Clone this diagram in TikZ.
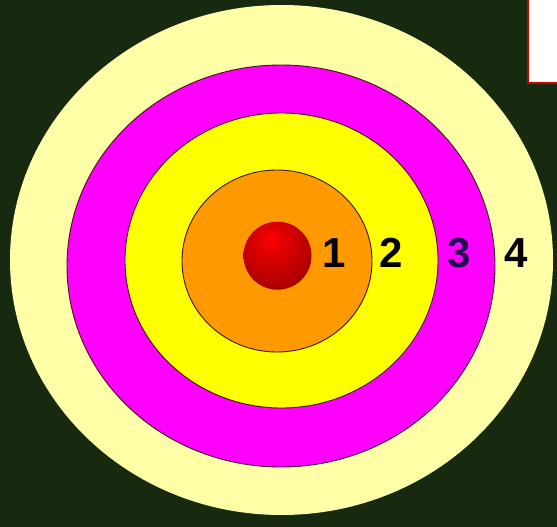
\documentclass[tikz,border=0pt]{standalone}
\usepackage{fontspec}
\setmainfont{Liberation Sans}
\definecolor{bgcol}{RGB}{23,41,14}
\definecolor{palecol}{RGB}{255,255,168}
\definecolor{magcol}{RGB}{255,0,255}
\definecolor{yelcol}{RGB}{255,255,0}
\definecolor{orcol}{RGB}{255,153,0}
\definecolor{ringline}{RGB}{60,20,20}
\definecolor{navycol}{RGB}{32,12,80}
\definecolor{boxred}{RGB}{200,0,0}
\pgfdeclareradialshading{redball}{\pgfpoint{-5bp}{13bp}}{%
  color(0bp)=(red!100!white);
  color(8bp)=(red!90!black);
  color(30bp)=(red!68!black);
  color(50bp)=(red!50!black);
  color(70bp)=(red!45!black)}
\begin{document}
\begin{tikzpicture}[x=1pt,y=-1pt,
  ring/.style={draw=ringline,line width=0.9pt},
  numlabel/.style={anchor=base,inner sep=0pt,font=\fontsize{42}{42}\selectfont\bfseries}]
\useasboundingbox (0,0) rectangle (557,527);
\clip (0,0) rectangle (557,527);
\fill[bgcol] (0,0) rectangle (557,527);
% rings
\fill[palecol] (281.5,260) ellipse [x radius=271.5, y radius=255];
\draw[ring,fill=magcol] (281,266) ellipse [x radius=214, y radius=201];
\draw[ring,fill=yelcol] (281.5,260.5) ellipse [x radius=156.5, y radius=147.5];
\draw[ring,fill=orcol] (277,261) ellipse [x radius=95, y radius=91];
% ball
\shade[shading=redball] (277.5,255.7) circle [radius=34];
% labels
\node[numlabel] (n1) at (334,267) {1};
\node[numlabel] (n2) at (391,267) {2};
\node[numlabel,text=navycol] (n3) at (459,267) {3};
\node[numlabel] (n4) at (516,267) {4};
% box at top right
\draw[boxred,line width=2pt,fill=white] (527.5,-5) rectangle (570,83.5);
\end{tikzpicture}
\end{document}
